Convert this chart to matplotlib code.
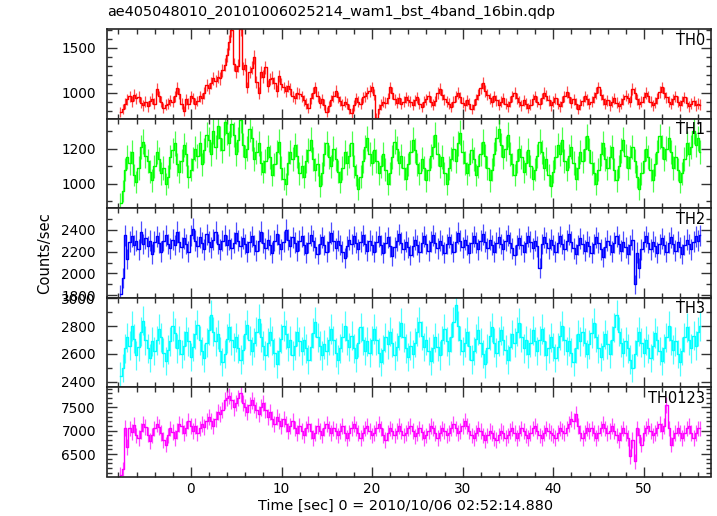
import numpy as np
import matplotlib
matplotlib.use("Agg")
import matplotlib.pyplot as plt
from matplotlib.ticker import MultipleLocator

# ---------------- data ----------------
t_start = -7.775      # centre of first bin [s]
bin_width = 0.25      # [s]

th0 = [
 790, 820, 880, 930, 960, 905, 975, 940, 955, 890, 860, 900, 850, 910, 935, 880,
 1040, 960, 900, 830, 870, 880, 920, 900, 960, 1055, 990, 880, 800, 930, 880, 960,
 940, 880, 910, 960, 940, 1000, 1090, 1050, 1110, 1160, 1130, 1180, 1160, 1250, 1310, 1420,
 1560, 1700, 1320, 1240, 1300, 1710, 1270, 1310, 1060, 1230, 1280, 1400, 1120, 1000, 1230, 1180,
 1285, 1080, 1150, 1170, 1110, 1020, 1190, 1100, 1060, 1020, 1080, 1040, 960, 940, 1000, 990,
 960, 920, 880, 830, 940, 1000, 1060, 960, 890, 930, 870, 790, 850, 920, 960, 1020,
 950, 910, 870, 900, 880, 820, 775, 860, 940, 900, 880, 950, 960, 1000, 1020, 1060,
 980, 720, 820, 870, 900, 890, 940, 1060, 1000, 930, 890, 940, 880, 900, 950, 920,
 900, 870, 920, 950, 880, 840, 900, 930, 960, 900, 870, 910, 1000, 1040, 980, 930,
 900, 880, 840, 900, 960, 1000, 950, 890, 860, 920, 880, 820, 870, 930, 980, 1050,
 1110, 1020, 980, 940, 900, 960, 920, 870, 900, 940, 880, 850, 900, 960, 1000, 940,
 900, 860, 920, 880, 830, 870, 930, 960, 900, 880, 940, 1000, 970, 920, 860, 900,
 940, 880, 850, 900, 960, 1010, 950, 890, 930, 880, 820, 870, 910, 960, 930, 880,
 900, 950, 1000, 1060, 980, 930, 880, 920, 860, 900, 940, 890, 850, 880, 930, 970,
 940, 900, 1040, 1000, 930, 880, 900, 950, 1000, 960, 900, 860, 890, 940, 1010, 1060,
 1000, 950, 900, 880, 930, 960, 900, 860, 910, 950, 890, 850, 880, 910, 860, 880,
 870]

th1 = [
 890, 960, 1080, 1150, 1120, 1180, 1050, 1010, 1090, 1210, 1240, 1160, 1130, 1070, 1020, 1100,
 1180, 1140, 1060, 1090, 1000, 1040, 1150, 1190, 1230, 1110, 1070, 1130, 1220, 1170, 1040, 1080,
 1140, 1200, 1160, 1230, 1110, 1190, 1280, 1250, 1170, 1300, 1210, 1330, 1260, 1190, 1350, 1290,
 1230, 1340, 1280, 1170, 1250, 1360, 1220, 1150, 1200, 1310, 1260, 1140, 1180, 1230, 1120, 1070,
 1130, 1210, 1150, 1050, 1110, 1180, 1240, 1090, 1030, 1000, 1120, 1180, 1140, 1220, 1160, 1060,
 1100, 1040, 1130, 1190, 1250, 1140, 1080, 1110, 990, 1060, 1170, 1230, 1150, 1100, 1200, 1140,
 1070, 1010, 1090, 1180, 1120, 1160, 1230, 1100, 1050, 970, 1040, 1130, 1210, 1260, 1170, 1120,
 1190, 1130, 1060, 1100, 1170, 1080, 1000, 1060, 1150, 1240, 1200, 1120, 1160, 1090, 1030, 1110,
 1180, 1250, 1190, 1110, 1060, 1140, 1090, 1020, 1080, 1160, 1210, 1280, 1170, 1100, 1150, 1060,
 1000, 1090, 1140, 1200, 1130, 1230, 1290, 1180, 1120, 1060, 1110, 1190, 1140, 1050, 1100, 1170,
 1240, 1160, 1090, 1020, 1080, 1170, 1260, 1310, 1220, 1150, 1200, 1280, 1170, 1110, 1050, 1130,
 1200, 1150, 1070, 1120, 1190, 1100, 1030, 1080, 1160, 1240, 1180, 1090, 1140, 1050, 990, 1070,
 1150, 1220, 1170, 1250, 1130, 1080, 1160, 1210, 1120, 1030, 1090, 1180, 1130, 1200, 1270, 1190,
 1120, 1060, 1000, 1080, 1170, 1230, 1140, 1090, 1150, 1210, 1080, 1020, 1100, 1190, 1250, 1160,
 1090, 1150, 1210, 1130, 1040, 970, 1060, 1130, 1200, 1150, 1080, 1020, 1110, 1180, 1270, 1210,
 1140, 1200, 1260, 1180, 1090, 1150, 1080, 1010, 1060, 1140, 1230, 1170, 1210, 1300, 1220, 1260,
 1180]

th2 = [
 1810, 1960, 2350, 2130, 2290, 2340, 2260, 2300, 2220, 2380, 2270, 2320, 2250, 2300, 2180, 2290,
 2340, 2280, 2200, 2300, 2350, 2270, 2230, 2310, 2260, 2380, 2290, 2240, 2320, 2270, 2200, 2350,
 2410, 2300, 2250, 2330, 2280, 2220, 2360, 2290, 2240, 2310, 2380, 2270, 2220, 2300, 2350, 2260,
 2310, 2230, 2280, 2370, 2300, 2250, 2320, 2270, 2200, 2290, 2340, 2260, 2210, 2300, 2380, 2280,
 2230, 2310, 2260, 2190, 2300, 2360, 2270, 2220, 2290, 2400, 2310, 2250, 2330, 2280, 2210, 2300,
 2340, 2260, 2190, 2280, 2350, 2300, 2240, 2180, 2270, 2330, 2260, 2200, 2290, 2370, 2300, 2230,
 2300, 2260, 2200, 2140, 2250, 2310, 2270, 2340, 2280, 2220, 2290, 2350, 2270, 2210, 2300, 2260,
 2200, 2290, 2340, 2260, 2190, 2280, 2330, 2250, 2160, 2240, 2300, 2360, 2280, 2220, 2290, 2240,
 2170, 2250, 2310, 2260, 2200, 2280, 2340, 2270, 2210, 2290, 2350, 2280, 2230, 2300, 2260, 2190,
 2270, 2330, 2270, 2200, 2290, 2370, 2300, 2240, 2310, 2260, 2190, 2280, 2340, 2280, 2220, 2300,
 2360, 2290, 2230, 2310, 2260, 2200, 2280, 2330, 2270, 2220, 2300, 2350, 2280, 2230, 2170, 2260,
 2320, 2260, 2200, 2280, 2340, 2290, 2230, 2300, 2250, 2050, 2270, 2330, 2280, 2230, 2310, 2260,
 2200, 2280, 2340, 2270, 2220, 2300, 2360, 2290, 2230, 2180, 2260, 2320, 2270, 2210, 2290, 2250,
 2190, 2270, 2330, 2280, 2220, 2150, 2240, 2300, 2260, 2200, 2280, 2340, 2270, 2210, 2290, 2240,
 2180, 2260, 2310, 1900, 2190, 2050, 2220, 2290, 2340, 2280, 2220, 2290, 2250, 2190, 2270, 2320,
 2260, 2200, 2280, 2330, 2270, 2210, 2290, 2240, 2180, 2260, 2310, 2270, 2220, 2290, 2340, 2300,
 2350]

th3 = [
 2440, 2500, 2640, 2720, 2660, 2800, 2710, 2590, 2650, 2760, 2840, 2700, 2640, 2570, 2690, 2620,
 2700, 2780, 2720, 2610, 2550, 2630, 2690, 2800, 2750, 2640, 2700, 2600, 2660, 2760, 2690, 2580,
 2650, 2740, 2810, 2700, 2620, 2570, 2680, 2770, 2880, 2760, 2690, 2740, 2620, 2540, 2600, 2710,
 2790, 2700, 2650, 2720, 2640, 2560, 2630, 2740, 2810, 2700, 2620, 2680, 2760, 2850, 2720, 2660,
 2590, 2680, 2760, 2700, 2610, 2530, 2620, 2710, 2800, 2740, 2650, 2700, 2590, 2660, 2760, 2690,
 2620, 2700, 2640, 2560, 2650, 2750, 2830, 2720, 2660, 2590, 2670, 2620, 2700, 2780, 2700, 2610,
 2560, 2640, 2720, 2800, 2700, 2650, 2730, 2640, 2570, 2680, 2790, 2700, 2620, 2690, 2610, 2700,
 2780, 2700, 2610, 2540, 2630, 2720, 2670, 2760, 2680, 2590, 2650, 2730, 2820, 2720, 2640, 2580,
 2660, 2600, 2680, 2760, 2830, 2730, 2650, 2700, 2620, 2550, 2640, 2720, 2650, 2590, 2700, 2780,
 2690, 2620, 2720, 2830, 2950, 2800, 2700, 2620, 2680, 2760, 2660, 2560, 2620, 2710, 2770, 2680,
 2600, 2530, 2640, 2730, 2790, 2680, 2610, 2690, 2770, 2700, 2630, 2560, 2650, 2740, 2680, 2760,
 2820, 2720, 2640, 2700, 2600, 2680, 2770, 2690, 2620, 2700, 2780, 2690, 2590, 2640, 2720, 2650,
 2570, 2650, 2730, 2800, 2700, 2620, 2690, 2610, 2540, 2640, 2740, 2690, 2760, 2680, 2600, 2670,
 2750, 2820, 2720, 2640, 2580, 2660, 2740, 2670, 2600, 2700, 2790, 2880, 2760, 2680, 2610, 2690,
 2640, 2560, 2500, 2600, 2690, 2760, 2680, 2610, 2700, 2640, 2570, 2660, 2750, 2700, 2620, 2550,
 2640, 2720, 2800, 2700, 2630, 2690, 2600, 2540, 2620, 2720, 2790, 2700, 2640, 2730, 2660, 2760,
 2800]

th0123 = [
 6060, 6180, 7060, 6650, 7050, 6980, 7120, 6900, 6850, 7000, 7150, 7080, 6920, 6780, 6900, 7050,
 7150, 7080, 6950, 6800, 6700, 6900, 7050, 6980, 6850, 7000, 7150, 7100, 6950, 7050, 7200, 7100,
 7000, 7100, 6950, 7050, 7150, 7080, 7200, 7300, 7200, 7100, 7250, 7400, 7350, 7450, 7650, 7700,
 7750, 7650, 7500, 7600, 7700, 7800, 7600, 7500, 7400, 7550, 7650, 7550, 7450, 7350, 7500, 7600,
 7450, 7300, 7400, 7250, 7150, 7300, 7200, 7100, 7250, 7150, 7000, 7100, 7200, 7050, 6950, 7100,
 7000, 6900, 7050, 7150, 7000, 6850, 6950, 7100, 7000, 6900, 7050, 7150, 7050, 6950, 7050, 7000,
 6900, 7000, 7100, 6950, 6850, 6950, 7050, 7150, 7050, 6950, 6850, 6950, 7050, 7100, 7000, 6900,
 6950, 7050, 7150, 7050, 6900, 6800, 6950, 7050, 7000, 6900, 7000, 7100, 7000, 6900, 6950, 7050,
 7100, 7000, 6880, 6950, 7050, 6980, 6850, 6900, 7000, 7100, 7050, 6950, 6850, 6950, 7050, 7000,
 6900, 6950, 7050, 7150, 7050, 6950, 7000, 7100, 7200, 7100, 7000, 6900, 6850, 6950, 7050, 7000,
 6900, 6800, 6900, 7000, 6950, 6850, 6800, 6900, 7000, 6950, 6850, 6900, 7000, 7050, 6950, 6850,
 6950, 7050, 7000, 6900, 6850, 6950, 7050, 7100, 7000, 6900, 6850, 6950, 7050, 7000, 6950, 6900,
 6850, 6950, 7050, 7000, 6950, 7050, 7150, 7250, 7200, 7350, 7100, 6950, 6850, 6950, 7050, 7000,
 7050, 6950, 6850, 6950, 7050, 7150, 7050, 6950, 7000, 7100, 7000, 6900, 6800, 6950, 7050, 6950,
 6850, 6450, 6800, 6350, 7050, 6900, 6700, 6950, 7050, 7100, 7000, 6900, 6950, 7050, 7150, 7000,
 7100, 7550, 7050, 6700, 6850, 6950, 7050, 6950, 6850, 6950, 7050, 7100, 6950, 6850, 6950, 7050,
 7050]

series = [th0, th1, th2, th3, th0123]
labels = ["TH0", "TH1", "TH2", "TH3", "TH0123"]
colors = ["#ff0000", "#00ff00", "#0000ff", "#00ffff", "#ff00ff"]
ylims = [(715, 1710), (863, 1371), (1780, 2599), (2363, 3005), (6021, 7937)]
ymajor = [500, 200, 200, 200, 500]
yminor = [100, 100, 100, 100, 100]
xlim = (-9.26, 57.4)

title = "ae405048010_20101006025214_wam1_bst_4band_16bin.qdp"
xlabel = "Time [sec] 0 = 2010/10/06 02:52:14.880"
ylabel = "Counts/sec"

# ---------------- plot ----------------
plt.rcParams["font.family"] = ["DejaVu Sans"]
W, H = 717, 516
fig = plt.figure(figsize=(W / 100, H / 100), dpi=100)

left, right = 107 / W, 711 / W
top, bottom = 1 - 29 / H, 1 - 476.5 / H
ph = (top - bottom) / 5

for k, (y, lab, col, yl) in enumerate(zip(series, labels, colors, ylims)):
    ax = fig.add_axes([left, top - (k + 1) * ph, right - left, ph])
    y = np.asarray(y, dtype=float)
    t = t_start + bin_width * np.arange(len(y))
    err = np.sqrt(y / bin_width)
    ax.errorbar(t, y, yerr=err, fmt="none", ecolor=col, elinewidth=0.9,
                capsize=0, alpha=0.7)
    ax.step(t, y, where="mid", color=col, lw=1.0)
    ax.set_xlim(*xlim)
    ax.set_ylim(*yl)
    ax.xaxis.set_major_locator(MultipleLocator(10))
    ax.xaxis.set_minor_locator(MultipleLocator(2))
    ax.yaxis.set_major_locator(MultipleLocator(ymajor[k]))
    ax.yaxis.set_minor_locator(MultipleLocator(yminor[k]))
    ax.tick_params(which="both", direction="in", top=True, right=True,
                   labelsize=9.8, width=1.0, color="#333333")
    ax.tick_params(which="major", length=7)
    ax.tick_params(which="minor", length=3.5)
    ax.tick_params(axis="y", pad=8)
    ax.tick_params(axis="x", pad=4)
    for s in ax.spines.values():
        s.set_linewidth(1.2)
        s.set_color("#222222")
    if k < 4:
        ax.tick_params(labelbottom=False)
    ax.text(0.99, 0.96, lab, transform=ax.transAxes, ha="right", va="top",
            fontsize=10.5)

fig.text(left, 1 - 12 / H, title, ha="left", va="center", fontsize=10.4)
fig.text((left + right) / 2 - 0.005, 1 - 506 / H, xlabel, ha="center",
         va="center", fontsize=10.4)
fig.text(45 / W, 0.51, ylabel, rotation=90, ha="center", va="center",
         fontsize=10.6)

fig.savefig("out.png", dpi=100)
